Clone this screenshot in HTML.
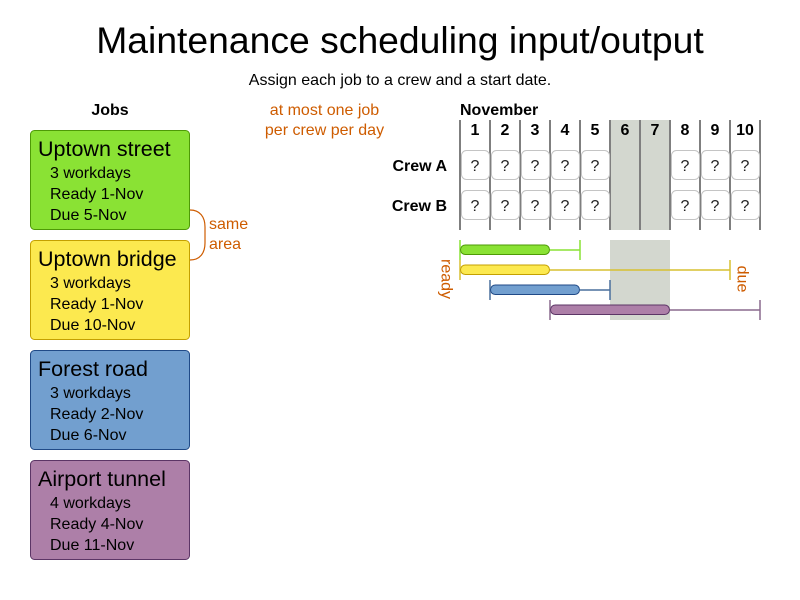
<!DOCTYPE html>
<html>
<head>
<meta charset="utf-8">
<style>
  html, body { margin:0; padding:0; background:#fff; }
  svg { display:block; }
  text { font-family: "Liberation Sans", Arial, sans-serif; }
</style>
</head>
<body>
<svg width="800" height="600" viewBox="0 0 800 600" xmlns="http://www.w3.org/2000/svg">
  <rect x="0" y="0" width="800" height="600" fill="#fff"/>

  <!-- Title -->
  <text x="400" y="53" font-size="37.3" text-anchor="middle" fill="#000">Maintenance scheduling input/output</text>
  <text x="400" y="85" font-size="16" text-anchor="middle" fill="#000">Assign each job to a crew and a start date.</text>

  <!-- Jobs header -->
  <text x="110" y="115" font-size="16" font-weight="bold" text-anchor="middle" fill="#000">Jobs</text>

  <!-- Job boxes -->
  <rect x="30.5" y="130.5" width="159" height="99" rx="4" fill="#8ae234" stroke="#4e9a06" stroke-width="1"/>
  <text x="38" y="156" font-size="21.5" fill="#000">Uptown street</text>
  <text x="50" y="178" font-size="16" fill="#000">3 workdays</text>
  <text x="50" y="199" font-size="16" fill="#000">Ready 1-Nov</text>
  <text x="50" y="220" font-size="16" fill="#000">Due 5-Nov</text>

  <rect x="30.5" y="240.5" width="159" height="99" rx="4" fill="#fce94f" stroke="#c4a000" stroke-width="1"/>
  <text x="38" y="266" font-size="21.5" fill="#000">Uptown bridge</text>
  <text x="50" y="288" font-size="16" fill="#000">3 workdays</text>
  <text x="50" y="309" font-size="16" fill="#000">Ready 1-Nov</text>
  <text x="50" y="330" font-size="16" fill="#000">Due 10-Nov</text>

  <rect x="30.5" y="350.5" width="159" height="99" rx="4" fill="#729fcf" stroke="#204a87" stroke-width="1"/>
  <text x="38" y="376" font-size="21.5" fill="#000">Forest road</text>
  <text x="50" y="398" font-size="16" fill="#000">3 workdays</text>
  <text x="50" y="419" font-size="16" fill="#000">Ready 2-Nov</text>
  <text x="50" y="440" font-size="16" fill="#000">Due 6-Nov</text>

  <rect x="30.5" y="460.5" width="159" height="99" rx="4" fill="#ad7fa8" stroke="#5c3566" stroke-width="1"/>
  <text x="38" y="486" font-size="21.5" fill="#000">Airport tunnel</text>
  <text x="50" y="508" font-size="16" fill="#000">4 workdays</text>
  <text x="50" y="529" font-size="16" fill="#000">Ready 4-Nov</text>
  <text x="50" y="550" font-size="16" fill="#000">Due 11-Nov</text>

  <!-- same area brace -->
  <path d="M190,210 C200,210 205,217 205,227 L205,243 C205,253 200,260 190,260" fill="none" stroke="#ce5c00" stroke-width="1.2"/>
  <text x="209" y="229" font-size="16" fill="#ce5c00">same</text>
  <text x="209" y="249" font-size="16" fill="#ce5c00">area</text>

  <!-- constraint text -->
  <text x="324.5" y="115" font-size="16" text-anchor="middle" fill="#ce5c00">at most one job</text>
  <text x="324.5" y="135" font-size="16" text-anchor="middle" fill="#ce5c00">per crew per day</text>

  <!-- Calendar -->
  <text x="460" y="115" font-size="16" font-weight="bold" fill="#000">November</text>
  <rect x="610" y="120" width="60" height="110" fill="#d3d7cf"/>
  <g stroke="#7f7f7f" stroke-width="2">
    <line x1="460" y1="120" x2="460" y2="230"/>
    <line x1="490" y1="120" x2="490" y2="230"/>
    <line x1="520" y1="120" x2="520" y2="230"/>
    <line x1="550" y1="120" x2="550" y2="230"/>
    <line x1="580" y1="120" x2="580" y2="230"/>
    <line x1="610" y1="120" x2="610" y2="230"/>
    <line x1="640" y1="120" x2="640" y2="230"/>
    <line x1="670" y1="120" x2="670" y2="230"/>
    <line x1="700" y1="120" x2="700" y2="230"/>
    <line x1="730" y1="120" x2="730" y2="230"/>
    <line x1="760" y1="120" x2="760" y2="230"/>
  </g>
  <g font-size="16" font-weight="bold" text-anchor="middle" fill="#000">
    <text x="475" y="135">1</text>
    <text x="505" y="135">2</text>
    <text x="535" y="135">3</text>
    <text x="565" y="135">4</text>
    <text x="595" y="135">5</text>
    <text x="625" y="135">6</text>
    <text x="655" y="135">7</text>
    <text x="685" y="135">8</text>
    <text x="715" y="135">9</text>
    <text x="745" y="135">10</text>
  </g>
  <text x="447" y="171" font-size="16" font-weight="bold" text-anchor="end" fill="#000">Crew A</text>
  <text x="447" y="211" font-size="16" font-weight="bold" text-anchor="end" fill="#000">Crew B</text>

  <g fill="#fff" stroke="#c4c4c4" stroke-width="1">
    <rect x="461.5" y="150.5" width="28" height="29" rx="5"/>
    <rect x="491.5" y="150.5" width="28" height="29" rx="5"/>
    <rect x="521.5" y="150.5" width="28" height="29" rx="5"/>
    <rect x="551.5" y="150.5" width="28" height="29" rx="5"/>
    <rect x="581.5" y="150.5" width="28" height="29" rx="5"/>
    <rect x="671.5" y="150.5" width="28" height="29" rx="5"/>
    <rect x="701.5" y="150.5" width="28" height="29" rx="5"/>
    <rect x="731.5" y="150.5" width="28" height="29" rx="5"/>
    <rect x="461.5" y="190.5" width="28" height="29" rx="5"/>
    <rect x="491.5" y="190.5" width="28" height="29" rx="5"/>
    <rect x="521.5" y="190.5" width="28" height="29" rx="5"/>
    <rect x="551.5" y="190.5" width="28" height="29" rx="5"/>
    <rect x="581.5" y="190.5" width="28" height="29" rx="5"/>
    <rect x="671.5" y="190.5" width="28" height="29" rx="5"/>
    <rect x="701.5" y="190.5" width="28" height="29" rx="5"/>
    <rect x="731.5" y="190.5" width="28" height="29" rx="5"/>
  </g>
  <g font-size="16" text-anchor="middle" fill="#222">
    <text x="475" y="171">?</text><text x="505" y="171">?</text><text x="535" y="171">?</text><text x="565" y="171">?</text><text x="595" y="171">?</text>
    <text x="685" y="171">?</text><text x="715" y="171">?</text><text x="745" y="171">?</text>
    <text x="475" y="211">?</text><text x="505" y="211">?</text><text x="535" y="211">?</text><text x="565" y="211">?</text><text x="595" y="211">?</text>
    <text x="685" y="211">?</text><text x="715" y="211">?</text><text x="745" y="211">?</text>
  </g>

  <!-- Bars region -->
  <rect x="610" y="240" width="60" height="80" fill="#d3d7cf"/>

  <!-- green -->
  <g stroke="#8ae234" stroke-opacity="0.75" stroke-width="2">
    <line x1="460" y1="240" x2="460" y2="260"/>
    <line x1="550" y1="250" x2="580" y2="250"/>
    <line x1="580" y1="240" x2="580" y2="260"/>
  </g>
  <rect x="460.5" y="245" width="89" height="9.5" rx="4.75" fill="#8ae234" stroke="#4e9a06" stroke-width="1"/>

  <!-- yellow -->
  <g stroke="#d7c030" stroke-opacity="0.75" stroke-width="2">
    <line x1="460" y1="260" x2="460" y2="280"/>
    <line x1="550" y1="270" x2="730" y2="270"/>
    <line x1="730" y1="260" x2="730" y2="280"/>
  </g>
  <rect x="460.5" y="265" width="89" height="9.5" rx="4.75" fill="#fce94f" stroke="#c4a000" stroke-width="1"/>

  <!-- blue -->
  <g stroke="#4a6f9c" stroke-opacity="0.75" stroke-width="2">
    <line x1="490" y1="280" x2="490" y2="300"/>
    <line x1="580" y1="290" x2="610" y2="290"/>
    <line x1="610" y1="280" x2="610" y2="300"/>
  </g>
  <rect x="490.5" y="285" width="89" height="9.5" rx="4.75" fill="#729fcf" stroke="#204a87" stroke-width="1"/>

  <!-- purple -->
  <g stroke="#8a6a8e" stroke-opacity="0.75" stroke-width="2">
    <line x1="550" y1="300" x2="550" y2="320"/>
    <line x1="670" y1="310" x2="760" y2="310"/>
    <line x1="760" y1="300" x2="760" y2="320"/>
  </g>
  <rect x="550.5" y="305" width="119" height="9.5" rx="4.75" fill="#ad7fa8" stroke="#5c3566" stroke-width="1"/>

  <!-- ready / due labels -->
  <text x="0" y="0" font-size="16" fill="#ce5c00" text-anchor="middle" transform="translate(441.5,279) rotate(90)">ready</text>
  <text x="0" y="0" font-size="16" fill="#ce5c00" text-anchor="middle" transform="translate(737.5,279) rotate(90)">due</text>
</svg>
</body>
</html>
